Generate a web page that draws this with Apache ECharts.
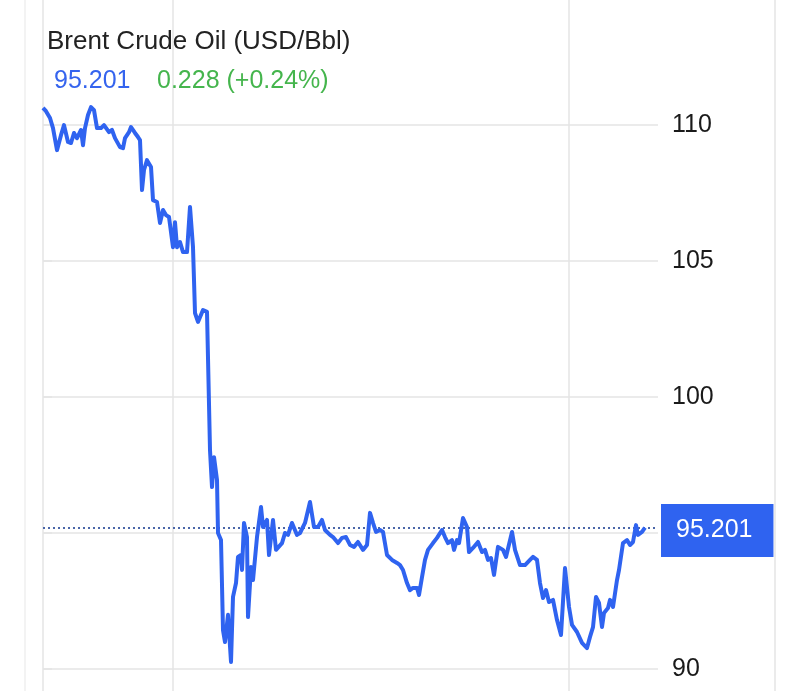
<!DOCTYPE html>
<html>
<head>
<meta charset="utf-8">
<script src="https://cdn.jsdelivr.net/npm/echarts@6/dist/echarts.min.js"></script>
<style>
html,body{margin:0;padding:0;background:#fff;}
#chart{width:800px;height:691px;}
</style>
</head>
<body>
<div id="chart"></div>
<script>
// ---- data ----
const chartTitle = 'Brent Crude Oil (USD/Bbl)';
const lastPrice = '95.201';
const changeText = '0.228 (+0.24%)';
const lastValue = 95.201;

// session time steps (relative units along the x axis)
const sessionTime = [
  0,3,7,10,14,18,21,25,28,31,34,38,40,42,45,48,51,54,58,61,
  63,66,69,72,74,77,80,82,86,88,92,95,97,99,101,104,108,110,114,117,
  120,123,126,130,132,134,137,140,144,147,150,152,155,160,164,167,169,171,174,175,
  178,180,182,185,188,190,193,195,198,199,201,204,205,208,210,214,218,220,224,226,
  230,233,239,242,245,249,254,257,262,267,271,275,279,282,287,290,295,299,303,307,
  311,315,320,324,327,330,333,337,340,344,349,354,357,360,364,367,370,374,376,379,
  382,385,390,394,399,402,405,409,411,414,416,420,424,426,430,435,439,442,445,448,
  451,455,460,463,469,472,477,482,487,490,494,497,500,503,506,510,514,518,522,526,
  529,534,539,544,547,550,553,556,559,561,565,567,570,574,576,580,584,587,590,593,
  595,599,602
];
const prices = [
  110.63,110.51,110.26,109.89,109.08,109.63,110.00,109.38,109.34,109.71,109.52,109.82,109.26,109.89,110.37,110.66,110.55,109.89,109.89,110.00,
  110.07,109.74,109.82,109.52,109.56,109.19,109.15,109.52,109.74,109.93,109.71,109.56,109.45,107.61,108.35,108.71,108.46,107.24,107.17,106.40,
  106.88,106.69,106.62,105.51,106.43,105.51,105.70,105.33,105.33,106.99,105.51,103.09,102.76,103.20,103.13,98.05,96.69,97.79,96.95,95.00,
  94.74,91.43,90.99,91.99,90.26,92.65,93.16,94.12,94.19,93.64,95.37,94.85,91.91,93.75,93.27,94.85,95.96,95.22,95.48,94.19,
  95.48,94.38,94.63,95.00,94.93,95.37,94.93,95.00,95.37,96.14,95.22,95.22,95.48,95.11,94.93,94.85,94.63,94.82,94.85,94.56,
  94.49,94.67,94.38,94.56,95.74,95.37,95.04,95.11,95.04,94.19,94.01,93.90,93.82,93.64,93.16,92.90,92.98,92.98,92.72,93.38,
  94.01,94.38,94.63,94.82,95.11,94.85,94.63,94.74,94.38,94.74,94.63,95.55,95.22,94.30,94.45,94.67,94.30,94.38,94.01,94.08,
  93.46,94.49,94.38,94.12,95.04,94.38,93.82,93.82,94.01,94.12,94.01,93.16,92.61,92.90,92.46,92.54,91.80,91.25,93.71,92.28,
  91.62,91.36,90.96,90.77,91.18,91.54,92.65,92.43,91.54,92.06,92.24,92.54,92.28,93.27,93.64,94.63,94.74,94.56,94.67,95.29,
  94.93,95.04,95.201
];
const yGridValues = [90, 95, 100, 105, 110];
const yLabelValues = [90, 100, 105, 110];
const yRange = [89.19, 114.6];
const verticalGridTimes = [130, 526];

// ---- chart ----
const seriesData = sessionTime.map((t, i) => [t, prices[i]]);
const gridColor = '#e5e5e5';
const font = 'Liberation Sans, Arial, Helvetica, sans-serif';

const chart = echarts.init(document.getElementById('chart'), null, {renderer: 'canvas'});
chart.setOption({
  animation: false,
  backgroundColor: '#ffffff',
  title: [
    {text: chartTitle, left: 47, top: 29, padding: 0,
     textStyle: {fontSize: 26, fontWeight: 'normal', color: '#222222', fontFamily: font}},
    {text: lastPrice, left: 54, top: 69, padding: 0,
     textStyle: {fontSize: 25, fontWeight: 'normal', color: '#3564ee', fontFamily: font}},
    {text: changeText, left: 157, top: 69, padding: 0,
     textStyle: {fontSize: 25, fontWeight: 'normal', color: '#45b54d', fontFamily: font}}
  ],
  graphic: [
    {type: 'line', shape: {x1: 25, y1: 0, x2: 25, y2: 691}, style: {stroke: '#efefef', lineWidth: 1.5}, z: 0},
    {type: 'line', shape: {x1: 775, y1: 0, x2: 775, y2: 691}, style: {stroke: gridColor, lineWidth: 1.5}, z: 0}
  ],
  grid: {left: 43, right: 142, top: 0, bottom: 0, containLabel: false},
  xAxis: {
    type: 'value', min: 0, max: 615,
    axisLabel: {show: false}, axisTick: {show: false}, axisLine: {show: false},
    splitLine: {show: false}
  },
  yAxis: {
    type: 'value', position: 'right', min: yRange[0], max: yRange[1],
    axisLine: {show: true, lineStyle: {color: gridColor, width: 1.5}},
    axisTick: {show: true, length: 9, customValues: yGridValues, lineStyle: {color: gridColor, width: 1.5}},
    splitLine: {show: true, lineStyle: {color: gridColor, width: 1.5}},
    axisLabel: {
      margin: 14, fontSize: 25, color: '#1a1a1a', fontFamily: font,
      customValues: yLabelValues,
      formatter: v => String(v)
    }
  },
  series: [{
    type: 'line',
    data: seriesData,
    showSymbol: false,
    lineStyle: {color: '#2f63f0', width: 4, join: 'round'},
    z: 5,
    markLine: {
      silent: true,
      symbol: ['none', 'none'],
      animation: false,
      data: [
        {xAxis: verticalGridTimes[0], lineStyle: {color: gridColor, width: 1.5, type: 'solid'}, label: {show: false}},
        {xAxis: verticalGridTimes[1], lineStyle: {color: gridColor, width: 1.5, type: 'solid'}, label: {show: false}},
        {yAxis: lastValue,
         lineStyle: {color: '#4a66a8', width: 2, type: [2, 3]},
         label: {show: true, position: 'end', distance: 3, offset: [0, 3], formatter: lastPrice,
                 backgroundColor: '#2f63f0', color: '#ffffff', fontSize: 25, fontFamily: font,
                 padding: [14, 21, 14, 15]}}
      ]
    }
  }]
});
</script>
</body>
</html>
